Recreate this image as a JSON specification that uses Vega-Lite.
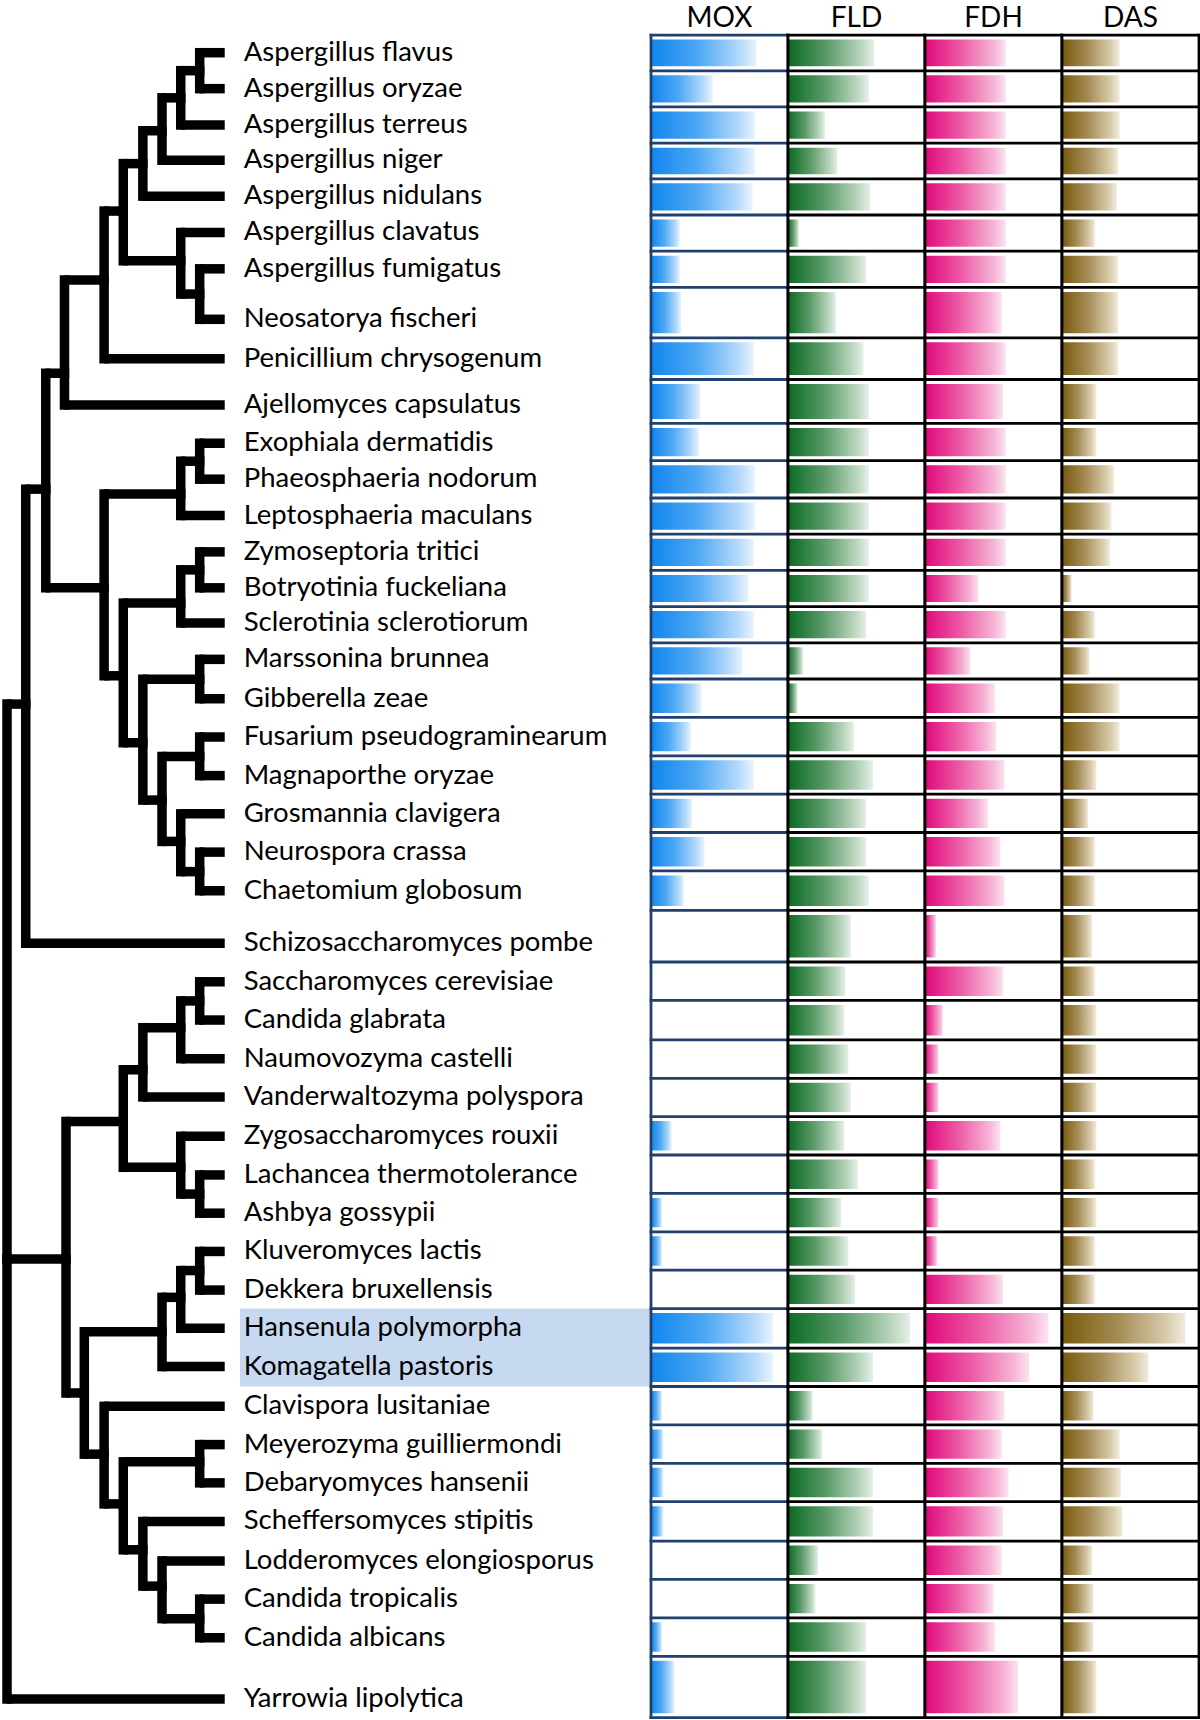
{
  "$schema": "https://vega.github.io/schema/vega-lite/v6.json",
  "padding": 0,
  "background": "white",
  "spacing": 0,
  "bounds": "flush",
  "config": {"view": {"stroke": null}, "axis": {"disable": true}},
  "resolve": {"scale": {"x": "independent", "y": "independent"}},
  "datasets": {
    "species": [
      {"name": "Aspergillus flavus", "pos": 0.46, "row_top": 0, "row_bottom": 0.933, "MOX": 77, "FLD": 63, "FDH": 59, "DAS": 42},
      {"name": "Aspergillus oryzae", "pos": 1.40, "row_top": 0.933, "row_bottom": 1.877, "MOX": 45, "FLD": 59, "FDH": 59, "DAS": 42},
      {"name": "Aspergillus terreus", "pos": 2.35, "row_top": 1.877, "row_bottom": 2.824, "MOX": 76, "FLD": 27, "FDH": 59, "DAS": 42},
      {"name": "Aspergillus niger", "pos": 3.27, "row_top": 2.824, "row_bottom": 3.757, "MOX": 76, "FLD": 36, "FDH": 59, "DAS": 41},
      {"name": "Aspergillus nidulans", "pos": 4.21, "row_top": 3.757, "row_bottom": 4.703, "MOX": 74, "FLD": 60, "FDH": 59, "DAS": 40},
      {"name": "Aspergillus clavatus", "pos": 5.16, "row_top": 4.703, "row_bottom": 5.650, "MOX": 21, "FLD": 8, "FDH": 59, "DAS": 24},
      {"name": "Aspergillus fumigatus", "pos": 6.11, "row_top": 5.650, "row_bottom": 6.596, "MOX": 21, "FLD": 57, "FDH": 59, "DAS": 41},
      {"name": "Neosatorya fischeri", "pos": 7.43, "row_top": 6.596, "row_bottom": 7.914, "MOX": 22, "FLD": 35, "FDH": 56, "DAS": 41},
      {"name": "Penicillium chrysogenum", "pos": 8.46, "row_top": 7.914, "row_bottom": 9.004, "MOX": 75, "FLD": 55, "FDH": 59, "DAS": 41},
      {"name": "Ajellomyces capsulatus", "pos": 9.67, "row_top": 9.004, "row_bottom": 10.152, "MOX": 36, "FLD": 59, "FDH": 57, "DAS": 25},
      {"name": "Exophiala dermatidis", "pos": 10.67, "row_top": 10.152, "row_bottom": 11.127, "MOX": 35, "FLD": 59, "FDH": 59, "DAS": 25},
      {"name": "Phaeosphaeria nodorum", "pos": 11.61, "row_top": 11.127, "row_bottom": 12.102, "MOX": 76, "FLD": 59, "FDH": 59, "DAS": 38},
      {"name": "Leptosphaeria maculans", "pos": 12.56, "row_top": 12.102, "row_bottom": 13.048, "MOX": 76, "FLD": 59, "FDH": 59, "DAS": 36},
      {"name": "Zymoseptoria tritici", "pos": 13.51, "row_top": 13.048, "row_bottom": 13.995, "MOX": 75, "FLD": 59, "FDH": 59, "DAS": 35},
      {"name": "Botryotinia fuckeliana", "pos": 14.45, "row_top": 13.995, "row_bottom": 14.941, "MOX": 71, "FLD": 59, "FDH": 39, "DAS": 7},
      {"name": "Sclerotinia sclerotiorum", "pos": 15.37, "row_top": 14.941, "row_bottom": 15.888, "MOX": 75, "FLD": 57, "FDH": 59, "DAS": 24},
      {"name": "Marssonina brunnea", "pos": 16.32, "row_top": 15.888, "row_bottom": 16.834, "MOX": 67, "FLD": 11, "FDH": 33, "DAS": 20},
      {"name": "Gibberella zeae", "pos": 17.35, "row_top": 16.834, "row_bottom": 17.838, "MOX": 37, "FLD": 7, "FDH": 51, "DAS": 42},
      {"name": "Fusarium pseudograminearum", "pos": 18.35, "row_top": 17.838, "row_bottom": 18.842, "MOX": 29, "FLD": 48, "FDH": 52, "DAS": 42},
      {"name": "Magnaporthe oryzae", "pos": 19.36, "row_top": 18.842, "row_bottom": 19.846, "MOX": 75, "FLD": 62, "FDH": 58, "DAS": 25},
      {"name": "Grosmannia clavigera", "pos": 20.36, "row_top": 19.846, "row_bottom": 20.847, "MOX": 30, "FLD": 57, "FDH": 46, "DAS": 19},
      {"name": "Neurospora crassa", "pos": 21.36, "row_top": 20.847, "row_bottom": 21.851, "MOX": 39, "FLD": 57, "FDH": 55, "DAS": 24},
      {"name": "Chaetomium globosum", "pos": 22.37, "row_top": 21.851, "row_bottom": 22.884, "MOX": 24, "FLD": 59, "FDH": 58, "DAS": 24},
      {"name": "Schizosaccharomyces pombe", "pos": 23.74, "row_top": 22.884, "row_bottom": 24.233, "MOX": 0, "FLD": 46, "FDH": 8, "DAS": 22},
      {"name": "Saccharomyces cerevisiae", "pos": 24.75, "row_top": 24.233, "row_bottom": 25.237, "MOX": 0, "FLD": 42, "FDH": 57, "DAS": 24},
      {"name": "Candida glabrata", "pos": 25.75, "row_top": 25.237, "row_bottom": 26.269, "MOX": 0, "FLD": 41, "FDH": 13, "DAS": 25},
      {"name": "Naumovozyma castelli", "pos": 26.76, "row_top": 26.269, "row_bottom": 27.273, "MOX": 0, "FLD": 44, "FDH": 10, "DAS": 25},
      {"name": "Vanderwaltozyma polyspora", "pos": 27.76, "row_top": 27.273, "row_bottom": 28.275, "MOX": 0, "FLD": 46, "FDH": 10, "DAS": 25},
      {"name": "Zygosaccharomyces rouxii", "pos": 28.79, "row_top": 28.275, "row_bottom": 29.278, "MOX": 15, "FLD": 41, "FDH": 55, "DAS": 25},
      {"name": "Lachancea  thermotolerance", "pos": 29.80, "row_top": 29.278, "row_bottom": 30.282, "MOX": 0, "FLD": 51, "FDH": 10, "DAS": 24},
      {"name": "Ashbya gossypii", "pos": 30.80, "row_top": 30.282, "row_bottom": 31.286, "MOX": 8, "FLD": 39, "FDH": 10, "DAS": 25},
      {"name": "Kluveromyces lactis", "pos": 31.80, "row_top": 31.286, "row_bottom": 32.290, "MOX": 8, "FLD": 44, "FDH": 9, "DAS": 24},
      {"name": "Dekkera bruxellensis", "pos": 32.81, "row_top": 32.290, "row_bottom": 33.294, "MOX": 0, "FLD": 49, "FDH": 57, "DAS": 24},
      {"name": "Hansenula polymorpha", "pos": 33.81, "row_top": 33.294, "row_bottom": 34.327, "MOX": 89, "FLD": 89, "FDH": 90, "DAS": 90, "highlight": true},
      {"name": "Komagatella pastoris", "pos": 34.81, "row_top": 34.327, "row_bottom": 35.331, "MOX": 89, "FLD": 62, "FDH": 76, "DAS": 63, "highlight": true},
      {"name": "Clavispora lusitaniae", "pos": 35.85, "row_top": 35.331, "row_bottom": 36.335, "MOX": 8, "FLD": 18, "FDH": 58, "DAS": 23},
      {"name": "Meyerozyma guilliermondi", "pos": 36.85, "row_top": 36.335, "row_bottom": 37.339, "MOX": 9, "FLD": 25, "FDH": 56, "DAS": 42},
      {"name": "Debaryomyces hansenii", "pos": 37.85, "row_top": 37.339, "row_bottom": 38.342, "MOX": 9, "FLD": 62, "FDH": 61, "DAS": 43},
      {"name": "Scheffersomyces stipitis", "pos": 38.86, "row_top": 38.342, "row_bottom": 39.373, "MOX": 9, "FLD": 62, "FDH": 57, "DAS": 44},
      {"name": "Lodderomyces elongiosporus", "pos": 39.89, "row_top": 39.373, "row_bottom": 40.376, "MOX": 0, "FLD": 22, "FDH": 56, "DAS": 22},
      {"name": "Candida tropicalis", "pos": 40.89, "row_top": 40.376, "row_bottom": 41.380, "MOX": 0, "FLD": 20, "FDH": 50, "DAS": 23},
      {"name": "Candida albicans", "pos": 41.90, "row_top": 41.380, "row_bottom": 42.384, "MOX": 8, "FLD": 57, "FDH": 51, "DAS": 23},
      {"name": "Yarrowia lipolytica", "pos": 43.50, "row_top": 42.384, "row_bottom": 43.990, "MOX": 17, "FLD": 57, "FDH": 68, "DAS": 25}
    ],
    "bounds": [
      {"b": 0}, {"b": 0.933}, {"b": 1.877}, {"b": 2.824}, {"b": 3.757}, {"b": 4.703}, {"b": 5.650}, {"b": 6.596}, {"b": 7.914}, {"b": 9.004},
      {"b": 10.152}, {"b": 11.127}, {"b": 12.102}, {"b": 13.048}, {"b": 13.995}, {"b": 14.941}, {"b": 15.888}, {"b": 16.834}, {"b": 17.838}, {"b": 18.842},
      {"b": 19.846}, {"b": 20.847}, {"b": 21.851}, {"b": 22.884}, {"b": 24.233}, {"b": 25.237}, {"b": 26.269}, {"b": 27.273}, {"b": 28.275}, {"b": 29.278},
      {"b": 30.282}, {"b": 31.286}, {"b": 32.290}, {"b": 33.294}, {"b": 34.327}, {"b": 35.331}, {"b": 36.335}, {"b": 37.339}, {"b": 38.342}, {"b": 39.373},
      {"b": 40.376}, {"b": 41.380}, {"b": 42.384}, {"b": 43.990}
    ],
    "sides": [{"side": 0, "top": 0, "bottom": 43.99}, {"side": 100, "top": 0, "bottom": 43.99}],
    "edges": [
      {"child": "Aspergillus flavus", "pdepth": 8.85, "ppos": 0.93, "cdepth": 10, "cpos": 0.46},
      {"child": "Aspergillus oryzae", "pdepth": 8.85, "ppos": 0.93, "cdepth": 10, "cpos": 1.40},
      {"child": "N1", "pdepth": 7.98, "ppos": 1.64, "cdepth": 8.85, "cpos": 0.93},
      {"child": "Aspergillus terreus", "pdepth": 7.98, "ppos": 1.64, "cdepth": 10, "cpos": 2.35},
      {"child": "N2", "pdepth": 7.12, "ppos": 2.5, "cdepth": 7.98, "cpos": 1.64},
      {"child": "Aspergillus niger", "pdepth": 7.12, "ppos": 2.5, "cdepth": 10, "cpos": 3.27},
      {"child": "N3", "pdepth": 6.24, "ppos": 3.36, "cdepth": 7.12, "cpos": 2.5},
      {"child": "Aspergillus nidulans", "pdepth": 6.24, "ppos": 3.36, "cdepth": 10, "cpos": 4.21},
      {"child": "Aspergillus fumigatus", "pdepth": 8.85, "ppos": 6.77, "cdepth": 10, "cpos": 6.11},
      {"child": "Neosatorya fischeri", "pdepth": 8.85, "ppos": 6.77, "cdepth": 10, "cpos": 7.43},
      {"child": "Aspergillus clavatus", "pdepth": 7.98, "ppos": 5.9, "cdepth": 10, "cpos": 5.16},
      {"child": "N5", "pdepth": 7.98, "ppos": 5.9, "cdepth": 8.85, "cpos": 6.77},
      {"child": "N4", "pdepth": 5.34, "ppos": 4.6, "cdepth": 6.24, "cpos": 3.36},
      {"child": "N6", "pdepth": 5.34, "ppos": 4.6, "cdepth": 7.98, "cpos": 5.9},
      {"child": "N7", "pdepth": 4.46, "ppos": 6.4, "cdepth": 5.34, "cpos": 4.6},
      {"child": "Penicillium chrysogenum", "pdepth": 4.46, "ppos": 6.4, "cdepth": 10, "cpos": 8.46},
      {"child": "N8", "pdepth": 2.64, "ppos": 8.84, "cdepth": 4.46, "cpos": 6.4},
      {"child": "Ajellomyces capsulatus", "pdepth": 2.64, "ppos": 8.84, "cdepth": 10, "cpos": 9.67},
      {"child": "Exophiala dermatidis", "pdepth": 8.85, "ppos": 11.14, "cdepth": 10, "cpos": 10.67},
      {"child": "Phaeosphaeria nodorum", "pdepth": 8.85, "ppos": 11.14, "cdepth": 10, "cpos": 11.61},
      {"child": "NE1", "pdepth": 7.98, "ppos": 12.0, "cdepth": 8.85, "cpos": 11.14},
      {"child": "Leptosphaeria maculans", "pdepth": 7.98, "ppos": 12.0, "cdepth": 10, "cpos": 12.56},
      {"child": "Zymoseptoria tritici", "pdepth": 8.85, "ppos": 13.98, "cdepth": 10, "cpos": 13.51},
      {"child": "Botryotinia fuckeliana", "pdepth": 8.85, "ppos": 13.98, "cdepth": 10, "cpos": 14.45},
      {"child": "NZ1", "pdepth": 7.98, "ppos": 14.85, "cdepth": 8.85, "cpos": 13.98},
      {"child": "Sclerotinia sclerotiorum", "pdepth": 7.98, "ppos": 14.85, "cdepth": 10, "cpos": 15.37},
      {"child": "Marssonina brunnea", "pdepth": 8.85, "ppos": 16.84, "cdepth": 10, "cpos": 16.32},
      {"child": "Gibberella zeae", "pdepth": 8.85, "ppos": 16.84, "cdepth": 10, "cpos": 17.35},
      {"child": "Fusarium pseudograminearum", "pdepth": 8.85, "ppos": 18.86, "cdepth": 10, "cpos": 18.35},
      {"child": "Magnaporthe oryzae", "pdepth": 8.85, "ppos": 18.86, "cdepth": 10, "cpos": 19.36},
      {"child": "Neurospora crassa", "pdepth": 8.85, "ppos": 21.87, "cdepth": 10, "cpos": 21.36},
      {"child": "Chaetomium globosum", "pdepth": 8.85, "ppos": 21.87, "cdepth": 10, "cpos": 22.37},
      {"child": "Grosmannia clavigera", "pdepth": 7.98, "ppos": 21.08, "cdepth": 10, "cpos": 20.36},
      {"child": "NNC", "pdepth": 7.98, "ppos": 21.08, "cdepth": 8.85, "cpos": 21.87},
      {"child": "NFM", "pdepth": 7.12, "ppos": 20.0, "cdepth": 8.85, "cpos": 18.86},
      {"child": "NGNC", "pdepth": 7.12, "ppos": 20.0, "cdepth": 7.98, "cpos": 21.08},
      {"child": "NM", "pdepth": 6.24, "ppos": 18.5, "cdepth": 8.85, "cpos": 16.84},
      {"child": "NF", "pdepth": 6.24, "ppos": 18.5, "cdepth": 7.12, "cpos": 20.0},
      {"child": "NZ2", "pdepth": 5.34, "ppos": 16.75, "cdepth": 7.98, "cpos": 14.85},
      {"child": "NS", "pdepth": 5.34, "ppos": 16.75, "cdepth": 6.24, "cpos": 18.5},
      {"child": "NE2", "pdepth": 4.46, "ppos": 14.45, "cdepth": 7.98, "cpos": 12.0},
      {"child": "NQ", "pdepth": 4.46, "ppos": 14.45, "cdepth": 5.34, "cpos": 16.75},
      {"child": "N9", "pdepth": 1.78, "ppos": 11.87, "cdepth": 2.64, "cpos": 8.84},
      {"child": "NP", "pdepth": 1.78, "ppos": 11.87, "cdepth": 4.46, "cpos": 14.45},
      {"child": "N10", "pdepth": 0.86, "ppos": 17.49, "cdepth": 1.78, "cpos": 11.87},
      {"child": "Schizosaccharomyces pombe", "pdepth": 0.86, "ppos": 17.49, "cdepth": 10, "cpos": 23.74},
      {"child": "Saccharomyces cerevisiae", "pdepth": 8.85, "ppos": 25.25, "cdepth": 10, "cpos": 24.75},
      {"child": "Candida glabrata", "pdepth": 8.85, "ppos": 25.25, "cdepth": 10, "cpos": 25.75},
      {"child": "NSC", "pdepth": 7.98, "ppos": 25.95, "cdepth": 8.85, "cpos": 25.25},
      {"child": "Naumovozyma castelli", "pdepth": 7.98, "ppos": 25.95, "cdepth": 10, "cpos": 26.76},
      {"child": "NSCN", "pdepth": 6.24, "ppos": 27.05, "cdepth": 7.98, "cpos": 25.95},
      {"child": "Vanderwaltozyma polyspora", "pdepth": 6.24, "ppos": 27.05, "cdepth": 10, "cpos": 27.76},
      {"child": "Lachancea  thermotolerance", "pdepth": 8.85, "ppos": 30.3, "cdepth": 10, "cpos": 29.80},
      {"child": "Ashbya gossypii", "pdepth": 8.85, "ppos": 30.3, "cdepth": 10, "cpos": 30.80},
      {"child": "Zygosaccharomyces rouxii", "pdepth": 7.98, "ppos": 29.6, "cdepth": 10, "cpos": 28.79},
      {"child": "NLA", "pdepth": 7.98, "ppos": 29.6, "cdepth": 8.85, "cpos": 30.3},
      {"child": "NSCNV", "pdepth": 5.34, "ppos": 28.4, "cdepth": 6.24, "cpos": 27.05},
      {"child": "NZ", "pdepth": 5.34, "ppos": 28.4, "cdepth": 7.98, "cpos": 29.6},
      {"child": "Kluveromyces lactis", "pdepth": 8.85, "ppos": 32.3, "cdepth": 10, "cpos": 31.80},
      {"child": "Dekkera bruxellensis", "pdepth": 8.85, "ppos": 32.3, "cdepth": 10, "cpos": 32.81},
      {"child": "NKD", "pdepth": 7.98, "ppos": 33.0, "cdepth": 8.85, "cpos": 32.3},
      {"child": "Hansenula polymorpha", "pdepth": 7.98, "ppos": 33.0, "cdepth": 10, "cpos": 33.81},
      {"child": "NKDH", "pdepth": 7.12, "ppos": 33.9, "cdepth": 7.98, "cpos": 33.0},
      {"child": "Komagatella pastoris", "pdepth": 7.12, "ppos": 33.9, "cdepth": 10, "cpos": 34.81},
      {"child": "Meyerozyma guilliermondi", "pdepth": 8.85, "ppos": 37.3, "cdepth": 10, "cpos": 36.85},
      {"child": "Debaryomyces hansenii", "pdepth": 8.85, "ppos": 37.3, "cdepth": 10, "cpos": 37.85},
      {"child": "Candida tropicalis", "pdepth": 8.85, "ppos": 41.4, "cdepth": 10, "cpos": 40.89},
      {"child": "Candida albicans", "pdepth": 8.85, "ppos": 41.4, "cdepth": 10, "cpos": 41.90},
      {"child": "Lodderomyces elongiosporus", "pdepth": 7.12, "ppos": 40.55, "cdepth": 10, "cpos": 39.89},
      {"child": "NTA", "pdepth": 7.12, "ppos": 40.55, "cdepth": 8.85, "cpos": 41.4},
      {"child": "Scheffersomyces stipitis", "pdepth": 6.24, "ppos": 39.6, "cdepth": 10, "cpos": 38.86},
      {"child": "NLC", "pdepth": 6.24, "ppos": 39.6, "cdepth": 7.12, "cpos": 40.55},
      {"child": "NMD", "pdepth": 5.34, "ppos": 38.4, "cdepth": 8.85, "cpos": 37.3},
      {"child": "NSL", "pdepth": 5.34, "ppos": 38.4, "cdepth": 6.24, "cpos": 39.6},
      {"child": "Clavispora lusitaniae", "pdepth": 4.46, "ppos": 37.1, "cdepth": 10, "cpos": 35.85},
      {"child": "NCT2", "pdepth": 4.46, "ppos": 37.1, "cdepth": 5.34, "cpos": 38.4},
      {"child": "NKDHK", "pdepth": 3.55, "ppos": 35.5, "cdepth": 7.12, "cpos": 33.9},
      {"child": "NC", "pdepth": 3.55, "ppos": 35.5, "cdepth": 4.46, "cpos": 37.1},
      {"child": "NSZ", "pdepth": 2.71, "ppos": 32.0, "cdepth": 5.34, "cpos": 28.4},
      {"child": "NB", "pdepth": 2.71, "ppos": 32.0, "cdepth": 3.55, "cpos": 35.5},
      {"child": "N11", "pdepth": 0, "ppos": 32.0, "cdepth": 0.86, "cpos": 17.49},
      {"child": "NY", "pdepth": 0, "ppos": 32.0, "cdepth": 2.71, "cpos": 32.0},
      {"child": "Yarrowia lipolytica", "pdepth": 0, "ppos": 32.0, "cdepth": 10, "cpos": 43.5}
    ]
  },
  "hconcat": [
    {
      "width": 649,
      "height": 1720,
      "layer": [
        {
          "data": {"name": "species"},
          "transform": [{"filter": "datum.highlight"}],
          "mark": {"type": "rect", "fill": "#c6d9f0"},
          "encoding": {
            "x": {"datum": 10.7, "type": "quantitative", "scale": {"domain": [-0.23, 29.58], "nice": false, "zero": false}},
            "x2": {"datum": 30},
            "y": {"field": "row_top", "type": "quantitative", "scale": {"domain": [-0.918, 44.05], "reverse": true, "nice": false, "zero": false}},
            "y2": {"field": "row_bottom"}
          }
        },
        {
          "data": {"name": "edges"},
          "mark": {"type": "rule", "color": "black", "strokeWidth": 9.5, "strokeCap": "butt"},
          "encoding": {
            "x": {"field": "pdepth", "type": "quantitative", "scale": {"domain": [-0.23, 29.58], "nice": false, "zero": false}},
            "x2": {"field": "cdepth"},
            "y": {"field": "cpos", "type": "quantitative", "scale": {"domain": [-0.918, 44.05], "reverse": true, "nice": false, "zero": false}}
          }
        },
        {
          "data": {"name": "edges"},
          "mark": {"type": "rule", "color": "black", "strokeWidth": 9.5, "strokeCap": "square"},
          "encoding": {
            "x": {"field": "pdepth", "type": "quantitative", "scale": {"domain": [-0.23, 29.58], "nice": false, "zero": false}},
            "y": {"field": "cpos", "type": "quantitative", "scale": {"domain": [-0.918, 44.05], "reverse": true, "nice": false, "zero": false}},
            "y2": {"field": "ppos"}
          }
        },
        {
          "data": {"name": "species"},
          "mark": {"type": "text", "align": "left", "baseline": "middle", "dx": 19, "font": "Lato", "fontSize": 27.5, "color": "black"},
          "encoding": {
            "x": {"datum": 10, "type": "quantitative", "scale": {"domain": [-0.23, 29.58], "nice": false, "zero": false}},
            "y": {"field": "pos", "type": "quantitative", "scale": {"domain": [-0.918, 44.05], "reverse": true, "nice": false, "zero": false}},
            "text": {"field": "name", "type": "nominal"}
          }
        }
      ]
    },
    {
      "width": 137,
      "height": 1720,
      "layer": [
        {
          "data": {"name": "species"},
          "mark": {"type": "rect", "fill": {"gradient": "linear", "x1": 0, "y1": 0, "x2": 1, "y2": 0, "stops": [{"offset": 0, "color": "#0f86ee"}, {"offset": 0.45, "color": "#4ea8f4"}, {"offset": 0.85, "color": "#b5dafb"}, {"offset": 1, "color": "#e8f4fe"}]}},
          "encoding": {
            "x": {"field": "MOX", "type": "quantitative", "scale": {"domain": [0, 100], "nice": false, "zero": false}},
            "x2": {"datum": 0},
            "y": {"field": "row_top", "type": "quantitative", "scale": {"domain": [-0.918, 44.05], "reverse": true, "nice": false, "zero": false}},
            "y2": {"field": "row_bottom"}
          }
        },
        {
          "data": {"name": "bounds"},
          "mark": {"type": "rule", "color": "white", "strokeWidth": 9},
          "encoding": {
            "x": {"datum": 0, "type": "quantitative", "scale": {"domain": [0, 100], "nice": false, "zero": false}},
            "x2": {"datum": 100},
            "y": {"field": "b", "type": "quantitative", "scale": {"domain": [-0.918, 44.05], "reverse": true, "nice": false, "zero": false}}
          }
        },
        {
          "data": {"name": "bounds"},
          "mark": {"type": "rule", "color": "#22406e", "strokeWidth": 2.8, "strokeCap": "square"},
          "encoding": {
            "x": {"datum": 0, "type": "quantitative", "scale": {"domain": [0, 100], "nice": false, "zero": false}},
            "x2": {"datum": 100},
            "y": {"field": "b", "type": "quantitative", "scale": {"domain": [-0.918, 44.05], "reverse": true, "nice": false, "zero": false}}
          }
        },
        {
          "data": {"name": "sides"},
          "mark": {"type": "rule", "color": "#22406e", "strokeWidth": 2.8, "strokeCap": "square"},
          "encoding": {
            "x": {"field": "side", "type": "quantitative", "scale": {"domain": [0, 100], "nice": false, "zero": false}},
            "y": {"field": "top", "type": "quantitative", "scale": {"domain": [-0.918, 44.05], "reverse": true, "nice": false, "zero": false}},
            "y2": {"field": "bottom"}
          }
        },
        {
          "data": {"values": [{"enzyme": "MOX", "at": 50, "level": -0.2}]},
          "mark": {"type": "text", "align": "center", "baseline": "alphabetic", "font": "Lato", "fontSize": 28, "color": "black"},
          "encoding": {
            "x": {"field": "at", "type": "quantitative", "scale": {"domain": [0, 100], "nice": false, "zero": false}},
            "y": {"field": "level", "type": "quantitative", "scale": {"domain": [-0.918, 44.05], "reverse": true, "nice": false, "zero": false}},
            "text": {"field": "enzyme", "type": "nominal"}
          }
        }
      ]
    },
    {
      "width": 137,
      "height": 1720,
      "layer": [
        {
          "data": {"name": "species"},
          "mark": {"type": "rect", "fill": {"gradient": "linear", "x1": 0, "y1": 0, "x2": 1, "y2": 0, "stops": [{"offset": 0, "color": "#0a6a22"}, {"offset": 0.45, "color": "#5a9a68"}, {"offset": 0.85, "color": "#bad6be"}, {"offset": 1, "color": "#e6f0e7"}]}},
          "encoding": {
            "x": {"field": "FLD", "type": "quantitative", "scale": {"domain": [0, 100], "nice": false, "zero": false}},
            "x2": {"datum": 0},
            "y": {"field": "row_top", "type": "quantitative", "scale": {"domain": [-0.918, 44.05], "reverse": true, "nice": false, "zero": false}},
            "y2": {"field": "row_bottom"}
          }
        },
        {
          "data": {"name": "bounds"},
          "mark": {"type": "rule", "color": "white", "strokeWidth": 9},
          "encoding": {
            "x": {"datum": 0, "type": "quantitative", "scale": {"domain": [0, 100], "nice": false, "zero": false}},
            "x2": {"datum": 100},
            "y": {"field": "b", "type": "quantitative", "scale": {"domain": [-0.918, 44.05], "reverse": true, "nice": false, "zero": false}}
          }
        },
        {
          "data": {"name": "bounds"},
          "mark": {"type": "rule", "color": "black", "strokeWidth": 2.8, "strokeCap": "square"},
          "encoding": {
            "x": {"datum": 0, "type": "quantitative", "scale": {"domain": [0, 100], "nice": false, "zero": false}},
            "x2": {"datum": 100},
            "y": {"field": "b", "type": "quantitative", "scale": {"domain": [-0.918, 44.05], "reverse": true, "nice": false, "zero": false}}
          }
        },
        {
          "data": {"name": "sides"},
          "mark": {"type": "rule", "color": "black", "strokeWidth": 2.8, "strokeCap": "square"},
          "encoding": {
            "x": {"field": "side", "type": "quantitative", "scale": {"domain": [0, 100], "nice": false, "zero": false}},
            "y": {"field": "top", "type": "quantitative", "scale": {"domain": [-0.918, 44.05], "reverse": true, "nice": false, "zero": false}},
            "y2": {"field": "bottom"}
          }
        },
        {
          "data": {"values": [{"enzyme": "FLD", "at": 50, "level": -0.2}]},
          "mark": {"type": "text", "align": "center", "baseline": "alphabetic", "font": "Lato", "fontSize": 28, "color": "black"},
          "encoding": {
            "x": {"field": "at", "type": "quantitative", "scale": {"domain": [0, 100], "nice": false, "zero": false}},
            "y": {"field": "level", "type": "quantitative", "scale": {"domain": [-0.918, 44.05], "reverse": true, "nice": false, "zero": false}},
            "text": {"field": "enzyme", "type": "nominal"}
          }
        }
      ]
    },
    {
      "width": 137,
      "height": 1720,
      "layer": [
        {
          "data": {"name": "species"},
          "mark": {"type": "rect", "fill": {"gradient": "linear", "x1": 0, "y1": 0, "x2": 1, "y2": 0, "stops": [{"offset": 0, "color": "#e0087c"}, {"offset": 0.45, "color": "#ec5ca6"}, {"offset": 0.85, "color": "#f6b4d6"}, {"offset": 1, "color": "#fce3f0"}]}},
          "encoding": {
            "x": {"field": "FDH", "type": "quantitative", "scale": {"domain": [0, 100], "nice": false, "zero": false}},
            "x2": {"datum": 0},
            "y": {"field": "row_top", "type": "quantitative", "scale": {"domain": [-0.918, 44.05], "reverse": true, "nice": false, "zero": false}},
            "y2": {"field": "row_bottom"}
          }
        },
        {
          "data": {"name": "bounds"},
          "mark": {"type": "rule", "color": "white", "strokeWidth": 9},
          "encoding": {
            "x": {"datum": 0, "type": "quantitative", "scale": {"domain": [0, 100], "nice": false, "zero": false}},
            "x2": {"datum": 100},
            "y": {"field": "b", "type": "quantitative", "scale": {"domain": [-0.918, 44.05], "reverse": true, "nice": false, "zero": false}}
          }
        },
        {
          "data": {"name": "bounds"},
          "mark": {"type": "rule", "color": "black", "strokeWidth": 2.8, "strokeCap": "square"},
          "encoding": {
            "x": {"datum": 0, "type": "quantitative", "scale": {"domain": [0, 100], "nice": false, "zero": false}},
            "x2": {"datum": 100},
            "y": {"field": "b", "type": "quantitative", "scale": {"domain": [-0.918, 44.05], "reverse": true, "nice": false, "zero": false}}
          }
        },
        {
          "data": {"name": "sides"},
          "mark": {"type": "rule", "color": "black", "strokeWidth": 2.8, "strokeCap": "square"},
          "encoding": {
            "x": {"field": "side", "type": "quantitative", "scale": {"domain": [0, 100], "nice": false, "zero": false}},
            "y": {"field": "top", "type": "quantitative", "scale": {"domain": [-0.918, 44.05], "reverse": true, "nice": false, "zero": false}},
            "y2": {"field": "bottom"}
          }
        },
        {
          "data": {"values": [{"enzyme": "FDH", "at": 50, "level": -0.2}]},
          "mark": {"type": "text", "align": "center", "baseline": "alphabetic", "font": "Lato", "fontSize": 28, "color": "black"},
          "encoding": {
            "x": {"field": "at", "type": "quantitative", "scale": {"domain": [0, 100], "nice": false, "zero": false}},
            "y": {"field": "level", "type": "quantitative", "scale": {"domain": [-0.918, 44.05], "reverse": true, "nice": false, "zero": false}},
            "text": {"field": "enzyme", "type": "nominal"}
          }
        }
      ]
    },
    {
      "width": 137,
      "height": 1720,
      "layer": [
        {
          "data": {"name": "species"},
          "mark": {"type": "rect", "fill": {"gradient": "linear", "x1": 0, "y1": 0, "x2": 1, "y2": 0, "stops": [{"offset": 0, "color": "#785a0a"}, {"offset": 0.45, "color": "#a48b55"}, {"offset": 0.85, "color": "#d9ccac"}, {"offset": 1, "color": "#f1ebde"}]}},
          "encoding": {
            "x": {"field": "DAS", "type": "quantitative", "scale": {"domain": [0, 100], "nice": false, "zero": false}},
            "x2": {"datum": 0},
            "y": {"field": "row_top", "type": "quantitative", "scale": {"domain": [-0.918, 44.05], "reverse": true, "nice": false, "zero": false}},
            "y2": {"field": "row_bottom"}
          }
        },
        {
          "data": {"name": "bounds"},
          "mark": {"type": "rule", "color": "white", "strokeWidth": 9},
          "encoding": {
            "x": {"datum": 0, "type": "quantitative", "scale": {"domain": [0, 100], "nice": false, "zero": false}},
            "x2": {"datum": 100},
            "y": {"field": "b", "type": "quantitative", "scale": {"domain": [-0.918, 44.05], "reverse": true, "nice": false, "zero": false}}
          }
        },
        {
          "data": {"name": "bounds"},
          "mark": {"type": "rule", "color": "black", "strokeWidth": 2.8, "strokeCap": "square"},
          "encoding": {
            "x": {"datum": 0, "type": "quantitative", "scale": {"domain": [0, 100], "nice": false, "zero": false}},
            "x2": {"datum": 100},
            "y": {"field": "b", "type": "quantitative", "scale": {"domain": [-0.918, 44.05], "reverse": true, "nice": false, "zero": false}}
          }
        },
        {
          "data": {"name": "sides"},
          "mark": {"type": "rule", "color": "black", "strokeWidth": 2.8, "strokeCap": "square"},
          "encoding": {
            "x": {"field": "side", "type": "quantitative", "scale": {"domain": [0, 100], "nice": false, "zero": false}},
            "y": {"field": "top", "type": "quantitative", "scale": {"domain": [-0.918, 44.05], "reverse": true, "nice": false, "zero": false}},
            "y2": {"field": "bottom"}
          }
        },
        {
          "data": {"values": [{"enzyme": "DAS", "at": 50, "level": -0.2}]},
          "mark": {"type": "text", "align": "center", "baseline": "alphabetic", "font": "Lato", "fontSize": 28, "color": "black"},
          "encoding": {
            "x": {"field": "at", "type": "quantitative", "scale": {"domain": [0, 100], "nice": false, "zero": false}},
            "y": {"field": "level", "type": "quantitative", "scale": {"domain": [-0.918, 44.05], "reverse": true, "nice": false, "zero": false}},
            "text": {"field": "enzyme", "type": "nominal"}
          }
        }
      ]
    }
  ]
}
